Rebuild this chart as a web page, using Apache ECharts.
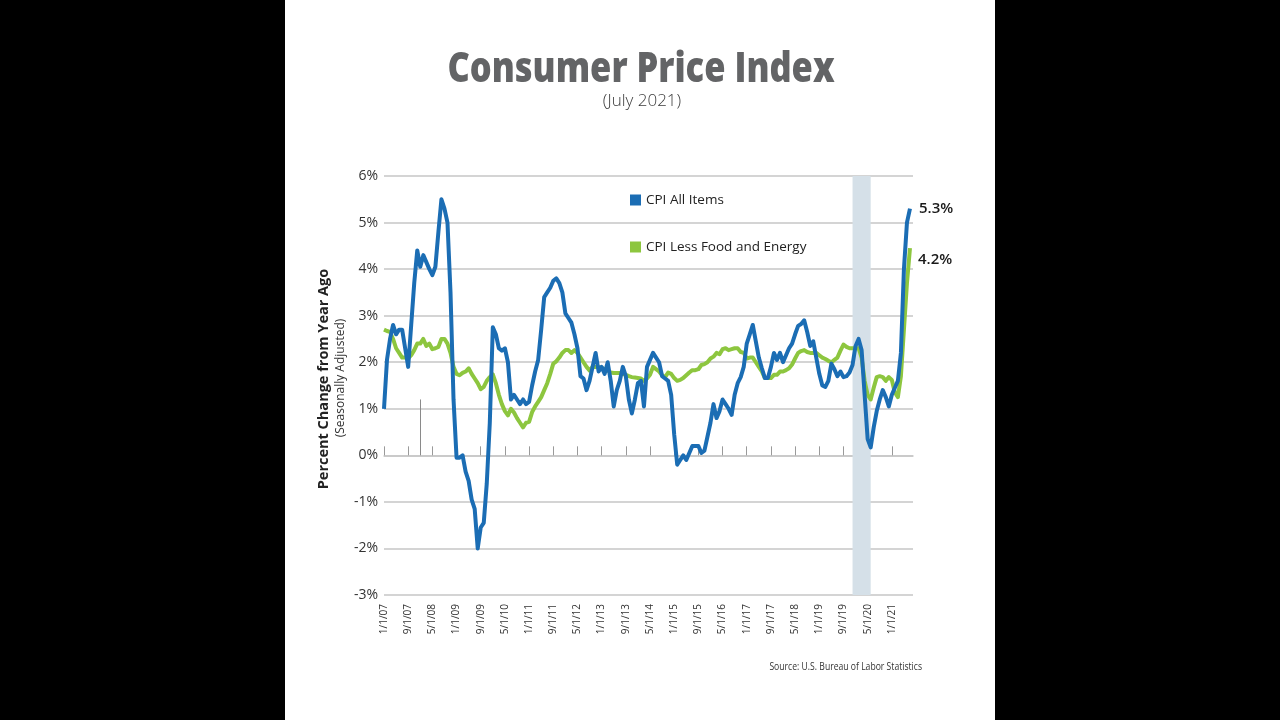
<!DOCTYPE html>
<html>
<head>
<meta charset="utf-8">
<script src="https://cdn.jsdelivr.net/npm/echarts@6/dist/echarts.min.js"></script>
<style>
html,body{margin:0;padding:0;background:#000;}
#wrap{position:relative;width:1280px;height:720px;background:#000;}
#panel{position:absolute;left:285px;top:0;width:710px;height:720px;background:#fff;}
#c{position:absolute;left:0;top:0;width:1280px;height:720px;}
</style>
</head>
<body>
<div id="wrap"><div id="panel"></div><div id="c"></div></div>
<script>
// ---------- DATA ----------
const seriesNames = ['CPI All Items', 'CPI Less Food and Energy'];

// Monthly year-over-year % change, Jan 2007 .. Jul 2021
const cpiAllItems = [
  1.0, 2.06, 2.5, 2.8, 2.6, 2.7, 2.7, 2.3, 1.9, 2.8, 3.7, 4.4,            // 2007
  4.05, 4.3, 4.15, 4.0, 3.87, 4.05, 4.8, 5.5, 5.3, 5.0, 3.5, 1.2,         // 2008
  -0.05, -0.05, 0.0, -0.35, -0.55, -0.95, -1.15, -2.0, -1.55, -1.45, -0.6, 0.7, // 2009
  2.75, 2.6, 2.3, 2.25, 2.3, 2.0, 1.2, 1.3, 1.2, 1.1, 1.2, 1.1,           // 2010
  1.15, 1.5, 1.8, 2.05, 2.7, 3.4, 3.5, 3.6, 3.75, 3.8, 3.7, 3.5,          // 2011
  3.05, 2.95, 2.85, 2.6, 2.3, 1.7, 1.65, 1.4, 1.6, 1.9, 2.2, 1.8,         // 2012
  1.9, 1.75, 2.0, 1.6, 1.05, 1.4, 1.6, 1.9, 1.7, 1.2, 0.9, 1.2,           // 2013
  1.55, 1.6, 1.05, 1.9, 2.05, 2.2, 2.1, 2.0, 1.7, 1.65, 1.6, 1.3,         // 2014
  0.45, -0.2, -0.1, 0.0, -0.1, 0.05, 0.2, 0.2, 0.2, 0.05, 0.1, 0.4,       // 2015
  0.7, 1.1, 0.8, 0.95, 1.2, 1.1, 1.0, 0.87, 1.3, 1.55, 1.68, 1.9,         // 2016
  2.4, 2.6, 2.8, 2.45, 2.1, 1.87, 1.66, 1.66, 1.9, 2.2, 2.05, 2.2,        // 2017
  2.0, 2.15, 2.3, 2.4, 2.6, 2.78, 2.82, 2.9, 2.65, 2.35, 2.45, 2.1,       // 2018
  1.75, 1.5, 1.47, 1.6, 1.97, 1.85, 1.7, 1.8, 1.68, 1.7, 1.78, 1.94,      // 2019
  2.35, 2.5, 2.26, 1.3, 0.35, 0.17, 0.6, 0.95, 1.2, 1.4, 1.25, 1.05,      // 2020
  1.3, 1.45, 1.6, 2.2, 4.0, 5.0, 5.3                                      // 2021
];
const cpiCore = [
  2.7, 2.67, 2.65, 2.5, 2.3, 2.2, 2.1, 2.1, 2.08, 2.15, 2.26, 2.4,        // 2007
  2.4, 2.5, 2.35, 2.4, 2.28, 2.3, 2.33, 2.5, 2.5, 2.4, 2.2, 1.9,          // 2008
  1.75, 1.72, 1.77, 1.8, 1.87, 1.75, 1.65, 1.55, 1.42, 1.47, 1.6, 1.68,   // 2009
  1.74, 1.55, 1.3, 1.1, 0.95, 0.86, 1.0, 0.92, 0.8, 0.7, 0.6, 0.7,        // 2010
  0.72, 0.93, 1.05, 1.15, 1.25, 1.4, 1.55, 1.75, 1.97, 2.02, 2.1, 2.2,    // 2011
  2.26, 2.26, 2.2, 2.26, 2.2, 2.1, 2.0, 1.9, 1.82, 1.9, 1.9, 1.9,         // 2012
  1.88, 1.85, 1.82, 1.78, 1.77, 1.77, 1.77, 1.75, 1.73, 1.7, 1.68, 1.67,  // 2013
  1.66, 1.65, 1.6, 1.65, 1.73, 1.9, 1.85, 1.8, 1.72, 1.68, 1.78, 1.75,    // 2014
  1.66, 1.6, 1.62, 1.66, 1.72, 1.78, 1.83, 1.83, 1.85, 1.94, 1.96, 2.0,   // 2015
  2.08, 2.12, 2.2, 2.17, 2.28, 2.3, 2.26, 2.28, 2.3, 2.3, 2.22, 2.2,      // 2016
  2.08, 2.1, 2.1, 2.0, 1.9, 1.8, 1.66, 1.66, 1.66, 1.73, 1.73, 1.8,       // 2017
  1.8, 1.83, 1.87, 1.95, 2.08, 2.2, 2.24, 2.26, 2.22, 2.2, 2.2, 2.2,      // 2018
  2.15, 2.1, 2.07, 2.03, 2.0, 2.05, 2.1, 2.25, 2.38, 2.33, 2.3, 2.3,      // 2019
  2.3, 2.3, 2.1, 1.6, 1.3, 1.2, 1.45, 1.68, 1.7, 1.68, 1.6, 1.68,         // 2020
  1.62, 1.35, 1.25, 1.7, 2.7, 3.7, 4.45                                   // 2021
];
const endLabelTexts = ['5.3%', '4.2%'];
const recessionBand = ['12/1/19', '6/1/20'];
const artifactTick = ['1/1/08', 0, 1.2];
const yMin = -3, yMax = 6, yStep = 1;

// month categories 1/1/07 .. 8/1/21
const categories = [];
for (let y = 2007; y <= 2021; y++) {
  for (let m = 1; m <= 12; m++) {
    if (y === 2021 && m > 8) break;
    categories.push(m + '/1/' + String(y).slice(2));
  }
}

// ---------- CHART ----------
const chart = echarts.init(document.getElementById('c'), null, {renderer: 'canvas'});
const BLUE = '#1b6db4', GREEN = '#8dc63f', GRID = '#c6c6c6';
const FONT = "'Open Sans', 'Liberation Sans', sans-serif";

function txt(o) {
  return {
    type: 'text', x: o.x, y: o.y, rotation: o.rotation || 0, scaleX: o.scaleX || 1, silent: true,
    style: {
      text: o.text, fill: o.color, fontSize: o.size, fontWeight: o.weight || 'normal', fontFamily: o.font || FONT,
      textAlign: o.align || 'center', align: o.align || 'center',
      textVerticalAlign: 'middle', verticalAlign: 'middle'
    }
  };
}

chart.setOption({
  animation: false,
  backgroundColor: 'transparent',
  grid: {left: 384, right: 367, top: 176, bottom: 125, containLabel: false},
  legend: {
    data: seriesNames,
    orient: 'vertical',
    left: 625, top: 188,
    itemWidth: 11, itemHeight: 11, itemGap: 33,
    icon: 'rect',
    textStyle: {color: '#222', fontSize: 13.5, fontFamily: FONT, lineHeight: 14},
    selectedMode: false
  },
  xAxis: [
    {
      type: 'category', data: categories, boundaryGap: false, position: 'bottom',
      axisLine: {show: false, onZero: false},
      axisTick: {show: false},
      axisLabel: {interval: 7, rotate: 90, margin: 9, color: '#333', fontSize: 10, fontFamily: FONT},
      splitLine: {show: false}
    },
    {
      type: 'category', data: categories, boundaryGap: false, position: 'bottom',
      axisLine: {show: true, onZero: true, lineStyle: {color: GRID, width: 1.5}},
      axisTick: {show: true, inside: true, interval: 7, length: 9, lineStyle: {color: '#9a9a9a', width: 1}},
      axisLabel: {show: false},
      splitLine: {show: false}
    }
  ],
  yAxis: {
    type: 'value', min: yMin, max: yMax, interval: yStep,
    axisLine: {show: false}, axisTick: {show: false},
    axisLabel: {formatter: '{value}%', margin: 6, color: '#333', fontSize: 14, fontFamily: FONT},
    splitLine: {lineStyle: {color: GRID, width: 1.5}}
  },
  series: [
    {
      name: seriesNames[1], type: 'line', data: cpiCore, symbol: 'none', z: 3,
      lineStyle: {color: GREEN, width: 4, join: 'round'}, itemStyle: {color: GREEN},
      endLabel: {
        show: true, formatter: () => '\n' + endLabelTexts[1], distance: 8, lineHeight: 24,
        color: '#1a1a1a', fontSize: 15, fontWeight: 600, fontFamily: FONT
      },
      markArea: {
        silent: true,
        itemStyle: {color: '#d5e0e8'},
        data: [[{xAxis: recessionBand[0]}, {xAxis: recessionBand[1]}]]
      },
      markLine: {
        silent: true, symbol: 'none', label: {show: false},
        lineStyle: {color: '#8a8a8a', width: 1, type: 'solid'},
        data: [[{coord: [artifactTick[0], artifactTick[1]]}, {coord: [artifactTick[0], artifactTick[2]]}]]
      }
    },
    {
      name: seriesNames[0], type: 'line', data: cpiAllItems, symbol: 'none', z: 4,
      lineStyle: {color: BLUE, width: 4, join: 'round'}, itemStyle: {color: BLUE},
      endLabel: {
        show: true, formatter: () => endLabelTexts[0], distance: 9,
        color: '#1a1a1a', fontSize: 15, fontWeight: 600, fontFamily: FONT
      }
    }
  ],
  graphic: [
    txt({x: 641, y: 70, text: 'Consumer Price Index', size: 42, weight: 800, color: '#636466', scaleX: 0.82}),
    txt({x: 642, y: 101, text: '(July 2021)', size: 17, weight: 300, color: '#3a3a3a'}),
    txt({x: 324, y: 379, text: 'Percent Change from Year Ago', size: 14.5, weight: 700, color: '#222', rotation: Math.PI / 2}),
    txt({x: 341, y: 378, text: '(Seasonally Adjusted)', size: 12, weight: 'normal', color: '#333', rotation: Math.PI / 2}),
    txt({x: 922, y: 667, text: 'Source: U.S. Bureau of Labor Statistics', size: 10.5, color: '#333', align: 'right', scaleX: 0.82})
  ]
});
</script>
</body>
</html>
